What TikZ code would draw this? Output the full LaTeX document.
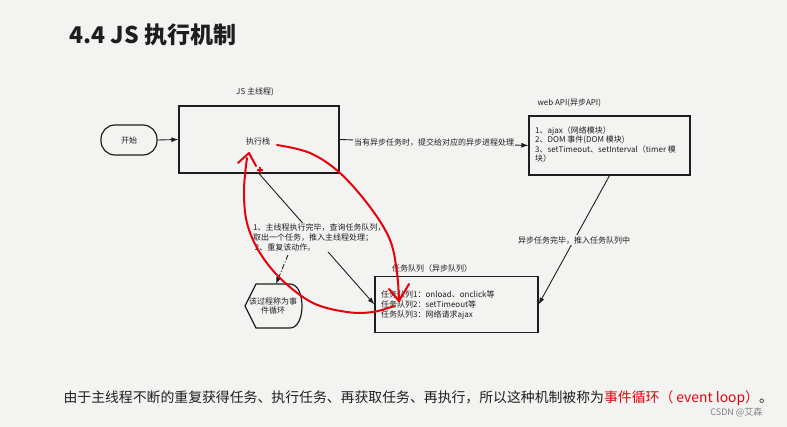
\documentclass[tikz,border=0pt]{standalone}
\usepackage{fontspec}
\setmainfont{Noto Sans CJK SC}
\usetikzlibrary{arrows.meta}
\definecolor{bg}{HTML}{F3F4F2}
\definecolor{penred}{HTML}{E8000B}
\definecolor{ink}{HTML}{1E1E1E}
\tikzset{
  box/.style={draw=ink, line width=1.2pt, fill=none, inner sep=0pt},
  small/.style={font=\fontsize{8}{9.6}\selectfont, text=ink},
  conn/.style={draw=ink, line width=0.9pt, -{Latex[length=7pt,width=5pt]}},
  pen/.style={draw=penred, line width=2pt, line cap=round, line join=round},
  lbl/.style={small, fill=bg, inner sep=1pt}
}
\begin{document}
\begin{tikzpicture}[x=1pt,y=-1pt]
\fill[bg] (0,0) rectangle (787,427);
\useasboundingbox (0,0) rectangle (787,427);

% title
\node[anchor=west, font=\fontsize{23}{27}\selectfont\bfseries, text=ink] (title) at (66,35) {4.4 JS 执行机制};

% start
\node[box, rounded corners=14pt, minimum width=56pt, minimum height=30pt, small] (start) at (129,140) {开始};

% main thread box
\node[box, minimum width=160pt, minimum height=67pt] (main) at (259,139.5) {};
\node[small] (mainlbl) at (255,92) {JS 主线程)};
\node[small] (stack) at (258,141) {执行栈};

% web API box
\node[box, minimum width=161pt, minimum height=59pt] (web) at (609.5,145.5) {};
\node[small, anchor=west] (weblbl) at (534,103) {web API(异步API)};
\node[small, anchor=north west, align=left, inner sep=0pt] (webtxt) at (535,126) {1、ajax（网络模块）\\2、DOM 事件(DOM 模块)\\3、setTimeout、setInterval（timer 模\\块）};

% task queue box
\node[box, minimum width=163pt, minimum height=56pt] (queue) at (456.5,304.5) {};
\node[small] (queuelbl) at (432,268) {任务队列（异步队列）};
\node[small, anchor=north west, align=left, inner sep=0pt] (queuetxt) at (381,291) {任务队列1：onload、onclick等\\任务队列2：setTimeout等\\任务队列3：网络请求ajax};

% display shape
\draw[box] (245,306) -- (256,284) -- (290,284) .. controls (306,284) and (306,328) .. (290,328) -- (256,328) -- cycle;
\node[small, align=center] (loop) at (273,306) {该过程称为事\\件循环};
\coordinate (loopnorth) at (276,284);

% connectors
\draw[conn] (start.east) -- (main.west);
\draw[conn] (main.east) -- node[lbl, pos=0.5] (l1) {当有异步任务时，提交给对应的异步进程处理} (web.west);
\draw[conn] (web.south) -- node[lbl, pos=0.5] (l2) {异步任务完毕，推入任务队列中} (queue.east);
\draw[conn] (main.south) -- (queue.west);
\node[small, align=left, fill=bg, inner sep=1pt, anchor=north west] (steps) at (252,223) {1、主线程执行完毕，查询任务队列，\\取出一个任务，推入主线程处理；\\\ 2、重复该动作。};
\coordinate (dstart) at (288,255);
\draw[draw=ink, line width=0.9pt, dash pattern=on 5pt off 2pt on 1pt off 2pt, -{Latex[length=7pt,width=5pt]}] (dstart) -- (loopnorth);

% red hand-drawn loop
\draw[pen] plot[smooth, tension=0.6] coordinates {(277,145) (310,153) (340,173) (370,207) (390,240) (397,273) (399,301)};
\draw[pen] (389,289) -- (399,301) -- (409,284);
\draw[pen] plot[smooth, tension=0.6] coordinates {(394,306) (373,312) (347,312) (313,303) (282,280) (260,253) (247,223) (244,190) (247,158)};
\draw[pen] (238,163) -- (249,153) -- (256,166);
\draw[penred, line width=1.2pt] (257,170) -- (263,170) (260,167) -- (260,173);

% bottom sentence
\node[anchor=west, font=\fontsize{13.86}{17}\selectfont, text=ink] (bottom) at (60,398) {由于主线程不断的重复获得任务、执行任务、再获取任务、再执行，所以这种机制被称为\textcolor{penred}{事件循环（ event loop）}。};
\node[anchor=east, font=\fontsize{9}{11}\selectfont, text=gray] (csdn) at (766,412) {CSDN @艾森};
\end{tikzpicture}
\end{document}
